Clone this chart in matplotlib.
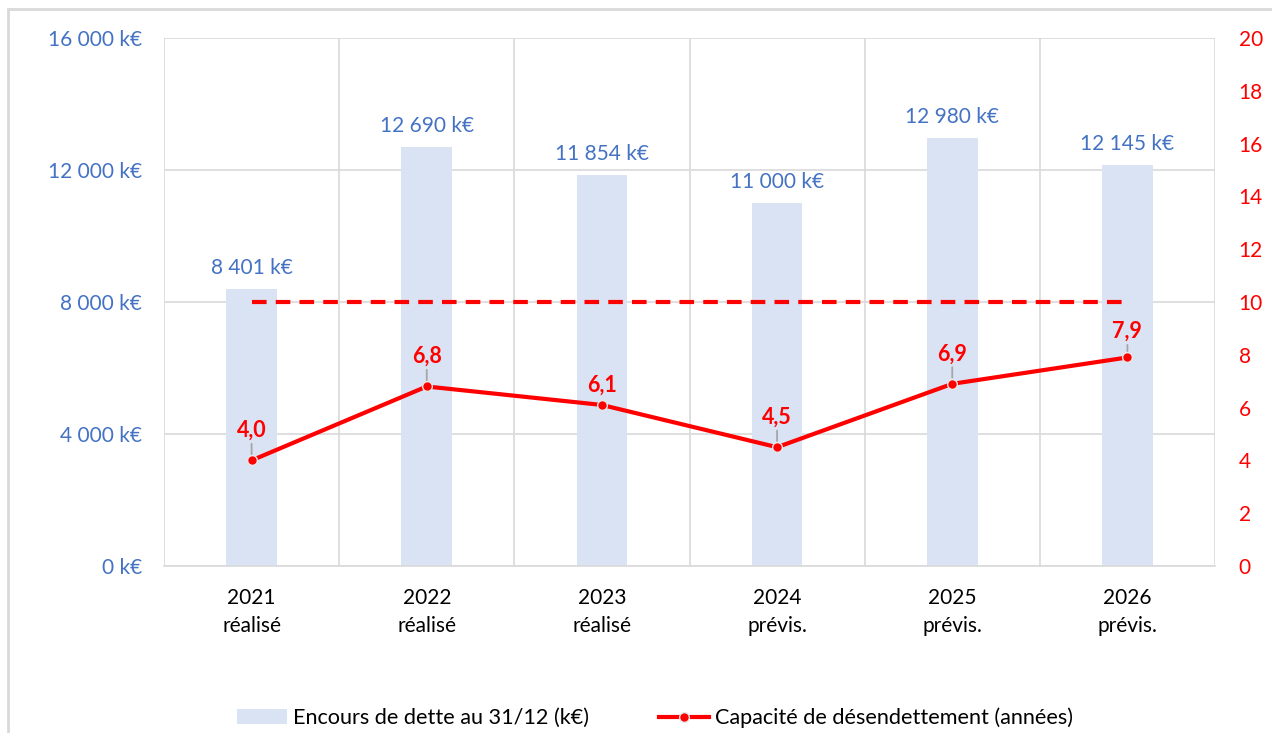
import matplotlib
matplotlib.use("Agg")
import matplotlib.pyplot as plt
from matplotlib.patches import Rectangle
from matplotlib.lines import Line2D
from matplotlib.patches import Patch
import numpy as np

plt.rcParams['font.family'] = ['Lato', 'DejaVu Sans']

years = ["2021", "2022", "2023", "2024", "2025", "2026"]
status = ["réalisé", "réalisé", "réalisé", "prévis.", "prévis.", "prévis."]
encours = [8401, 12690, 11854, 11000, 12980, 12145]
encours_labels = ["8 401 k€", "12 690 k€", "11 854 k€", "11 000 k€", "12 980 k€", "12 145 k€"]
capacite = [4.0, 6.8, 6.1, 4.5, 6.9, 7.9]
seuil = [10, 10, 10, 10, 10, 10]
left_ticks = [0, 4000, 8000, 12000, 16000]
left_tick_labels = ["0 k€", "4 000 k€", "8 000 k€", "12 000 k€", "16 000 k€"]
right_ticks = [0, 2, 4, 6, 8, 10, 12, 14, 16, 18, 20]

BLUE = "#4472C4"
RED = "#FF0000"
BAR = "#DAE3F3"
GRID = "#D9D9D9"
FS = 15

W, H = 1272, 733
fig = plt.figure(figsize=(W/100, H/100), dpi=100)
ax = fig.add_axes([164/W, 1-566/H, (1215-164)/W, (566-38)/H])

x = np.arange(len(years))
ax.bar(x, encours, width=0.29, color=BAR, zorder=2)
ax.set_xlim(-0.5, len(years)-0.5)
ax.set_ylim(0, 16000)
ax.set_yticks(left_ticks)
ax.set_yticklabels(left_tick_labels, color=BLUE, fontsize=FS)
ax.set_xticks(x)
ax.set_xticklabels([f"{y}\n{s}" for y, s in zip(years, status)], fontsize=FS, color="#000000", linespacing=1.5)
ax.tick_params(axis='y', length=0, pad=16)
ax.tick_params(axis='x', length=0, pad=16)
for xv in np.arange(-0.5, len(years), 1.0):
    ax.axvline(xv, color=GRID, lw=1.2, zorder=1)
ax.yaxis.grid(True, color=GRID, lw=1.2, zorder=1)
ax.set_axisbelow(True)
for sp in ['top', 'right', 'left']:
    ax.spines[sp].set_visible(False)
ax.spines['bottom'].set_color(GRID)
ax.spines['bottom'].set_linewidth(1.2)

for xi, v, lab in zip(x, encours, encours_labels):
    ax.annotate(lab, (xi, v), xytext=(0, 8), textcoords='offset points',
                ha='center', va='bottom', color=BLUE, fontsize=FS, zorder=5)

ax2 = ax.twinx()
ax2.set_ylim(0, 20)
ax2.set_yticks(right_ticks)
ax2.set_yticklabels([str(t) for t in right_ticks], color=RED, fontsize=FS)
ax2.tick_params(axis='y', length=0, pad=17)
for sp in ax2.spines.values():
    sp.set_visible(False)
ax2.plot(x, seuil, color=RED, lw=3, ls=(0, (3.5, 2.2)), zorder=3)
ax2.plot(x, capacite, color=RED, lw=3, marker='o', markersize=7,
         markerfacecolor=RED, markeredgecolor="#E8E8E8", markeredgewidth=1, zorder=4)

offsets = [14, 14, 7, 14, 14, 11]
for xi, v, off in zip(x, capacite, offsets):
    ax2.annotate(f"{v:.1f}".replace('.', ','), (xi, v), xytext=(0, off), textcoords='offset points',
                 ha='center', va='bottom', color=RED, fontsize=15.5, fontweight='bold', zorder=6)
    if off > 10:
        ax2.annotate("", (xi, v), xytext=(0, off - 2), textcoords='offset points',
                     arrowprops=dict(arrowstyle='-', color="#A6A6A6", lw=1.3, shrinkA=0, shrinkB=4.5))

handles = [Patch(facecolor=BAR, edgecolor='none'),
           Line2D([0], [0], color=RED, lw=3, marker='o', markersize=7,
                  markerfacecolor=RED, markeredgecolor="#E8E8E8")]
fig.legend(handles, ["Encours de dette au 31/12 (k€)", "Capacité de désendettement (années)"],
           loc='center', bbox_to_anchor=(655/W, 1-718/H), ncol=2, frameon=False,
           fontsize=15.6, columnspacing=3.2, handlelength=2.3, handletextpad=0.3)

fig.patches.append(Rectangle((8/W, -0.1), 1.2, 1-9/H+0.1, transform=fig.transFigure,
                             fill=False, edgecolor=GRID, lw=2, zorder=0))

fig.savefig("out.png", dpi=100)
